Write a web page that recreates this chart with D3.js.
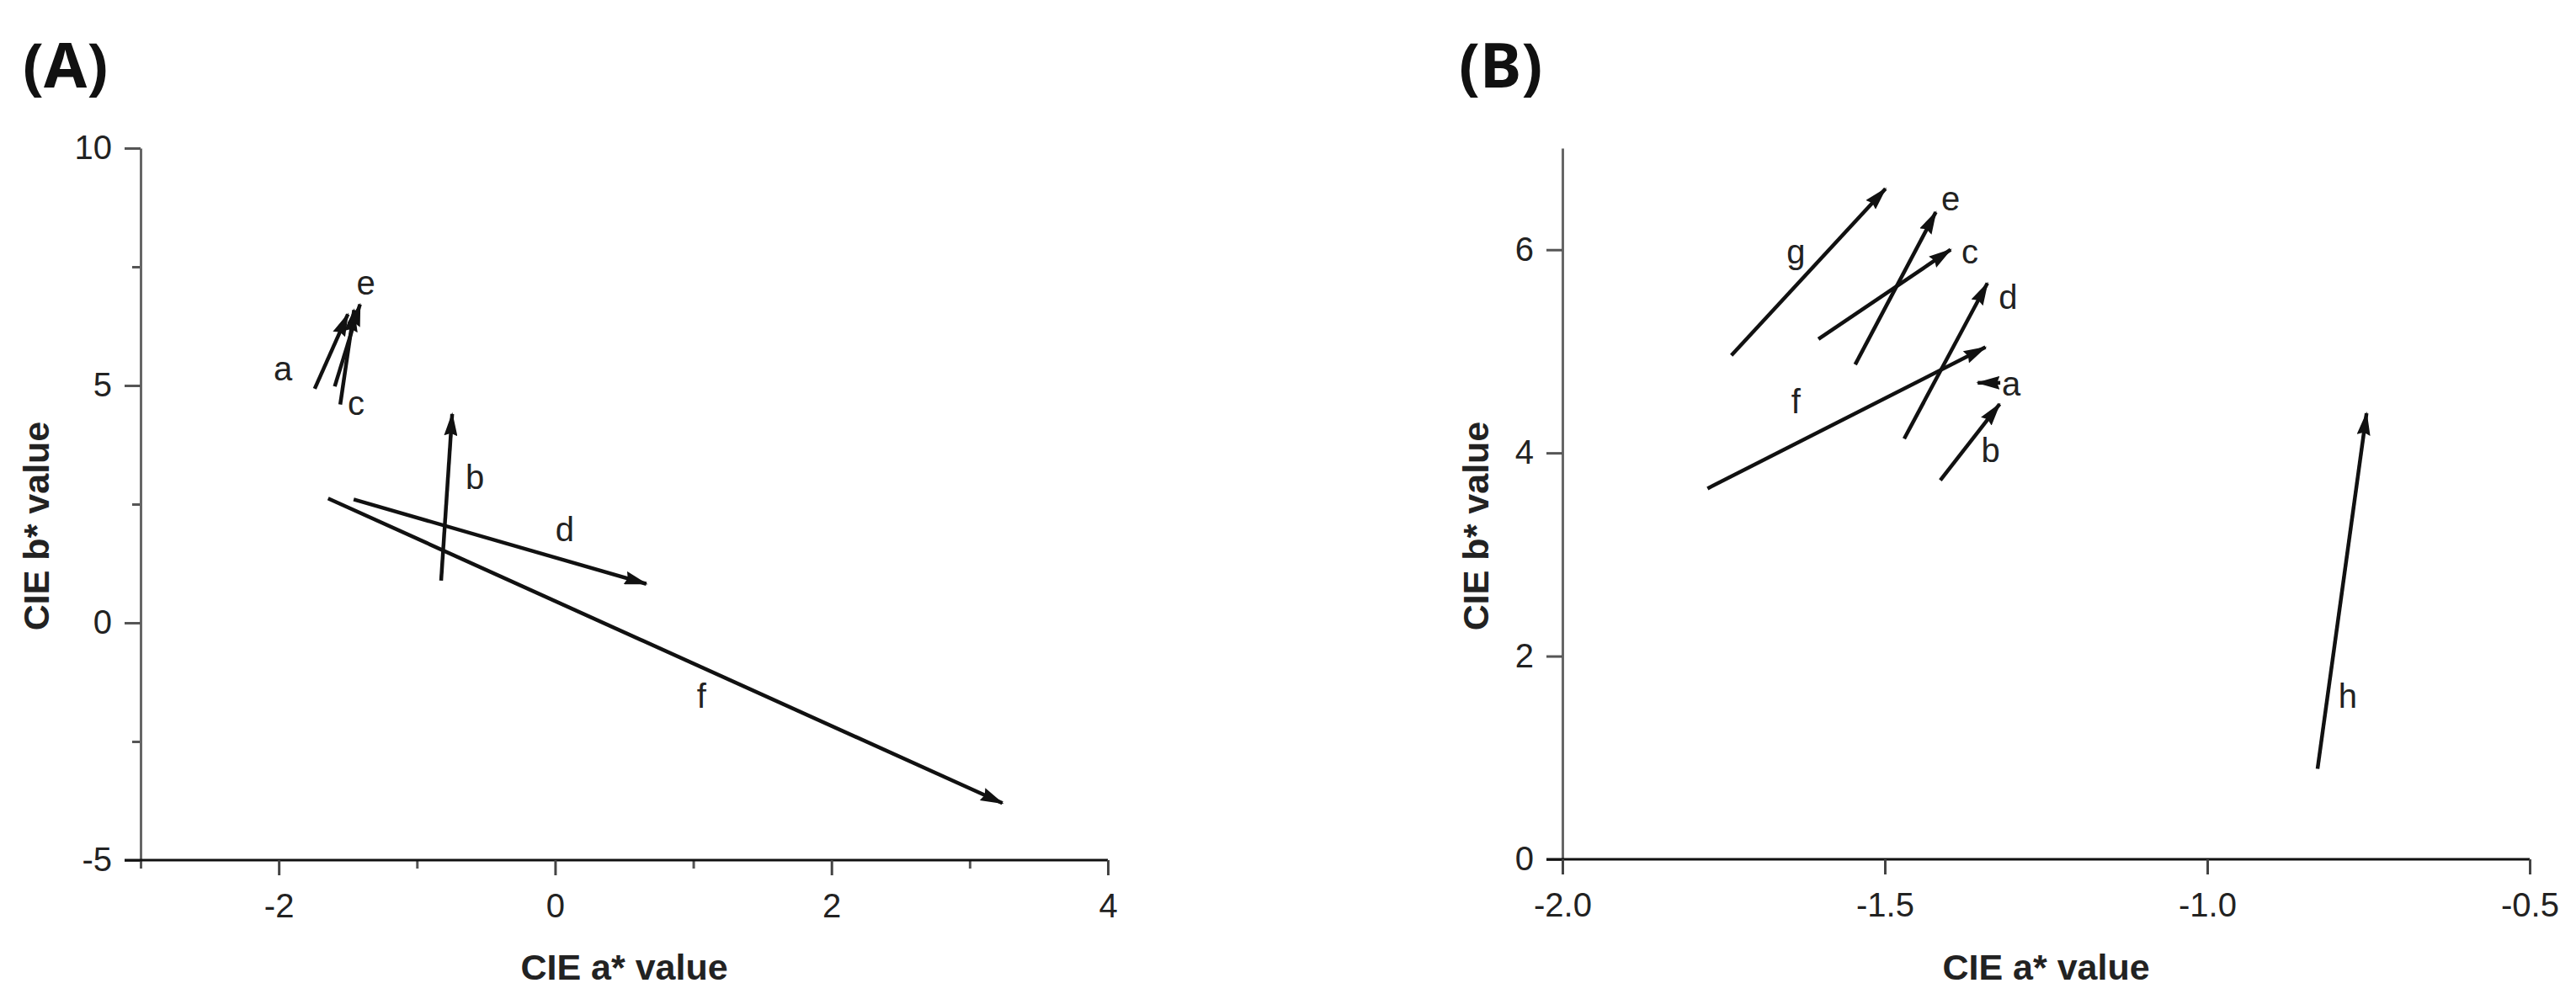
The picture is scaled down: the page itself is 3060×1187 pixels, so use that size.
<!DOCTYPE html>
<html>
<head>
<meta charset="utf-8">
<script src="https://cdn.jsdelivr.net/npm/d3@7"></script>
<style>
  body { margin: 0; background: #fff; }
  text { font-family: "Liberation Sans", Arial, sans-serif; }
</style>
</head>
<body>
<script>
// Panel A: colour change vectors (start -> end)
var labelsA = ["a", "b", "c", "d", "e", "f"];
var startXA = [-1.74, -0.825, -1.555, -1.458, -1.595, -1.643];
var startYA = [4.93, 0.89, 4.60, 2.60, 4.98, 2.62];
var endXA = [-1.50, -0.745, -1.455, 0.66, -1.412, 3.237];
var endYA = [6.50, 4.40, 6.59, 0.82, 6.71, -3.80];
var textXA = [-1.97, -0.58, -1.44, 0.07, -1.37, 1.06];
var textYA = [5.36, 3.06, 4.63, 1.97, 7.16, -1.54];

// Panel B
var labelsB = ["a", "b", "c", "d", "e", "f", "g", "h"];
var startXB = [-1.321, -1.414, -1.603, -1.470, -1.546, -1.775, -1.738, -0.829];
var startYB = [4.69, 3.73, 5.12, 4.14, 4.87, 3.65, 4.96, 0.89];
var endXB = [-1.356, -1.322, -1.398, -1.341, -1.421, -1.344, -1.499, -0.753];
var endYB = [4.69, 4.48, 6.00, 5.67, 6.37, 5.04, 6.60, 4.39];
var textXB = [-1.304, -1.336, -1.368, -1.309, -1.398, -1.638, -1.638, -0.782];
var textYB = [4.68, 4.03, 5.98, 5.53, 6.50, 4.51, 5.98, 1.61];

// Axis ticks
var xTicksA = [-2, 0, 2, 4], xMinorA = [-3, -1, 1, 3];
var yTicksA = [-5, 0, 5, 10], yMinorA = [-2.5, 2.5, 7.5];
var xTicksB = [-2.0, -1.5, -1.0, -0.5];
var yTicksB = [0, 2, 4, 6];

var svg = d3.select("body").append("svg")
    .attr("width", 3060)
    .attr("height", 1187);

// arrow head
svg.append("defs").append("marker")
    .attr("id", "head")
    .attr("markerUnits", "userSpaceOnUse")
    .attr("markerWidth", 28)
    .attr("markerHeight", 16)
    .attr("refX", 26)
    .attr("refY", 8)
    .attr("orient", "auto")
    .append("path")
    .attr("d", "M0,0 L28,8 L0,16 L3,8 Z")
    .attr("fill", "#111");

function drawPanel(opt) {
    var x = d3.scaleLinear().domain(opt.xDomain).range([opt.left, opt.right]);
    var y = d3.scaleLinear().domain(opt.yDomain).range([opt.bottom, opt.top]);

    // minor ticks first
    if (opt.xMinor) {
        svg.append("g")
            .attr("transform", "translate(0," + opt.bottom + ")")
            .call(d3.axisBottom(x).tickValues(opt.xMinor).tickSize(10).tickFormat(""))
            .call(g => g.select(".domain").remove())
            .call(g => g.selectAll("line").attr("stroke", "#555").attr("stroke-width", 3));
    }
    if (opt.yMinor) {
        svg.append("g")
            .attr("transform", "translate(" + opt.left + ",0)")
            .call(d3.axisLeft(y).tickValues(opt.yMinor).tickSize(10).tickFormat(""))
            .call(g => g.select(".domain").remove())
            .call(g => g.selectAll("line").attr("stroke", "#555").attr("stroke-width", 3));
    }

    // Y axis
    var yAxis = svg.append("g")
        .attr("transform", "translate(" + opt.left + ",0)")
        .call(d3.axisLeft(y).tickValues(opt.yTicks).tickSize(19).tickSizeOuter(0)
            .tickPadding(15).tickFormat(opt.yFormat));
    yAxis.select(".domain").attr("stroke", "#666").attr("stroke-width", 3);
    yAxis.selectAll("line").attr("stroke", "#555").attr("stroke-width", 3);
    yAxis.selectAll("text").attr("font-size", 40).attr("fill", "#222")
        .style("font-family", "'Liberation Sans', Arial, sans-serif");

    // X axis
    var xAxis = svg.append("g")
        .attr("transform", "translate(0," + opt.bottom + ")")
        .call(d3.axisBottom(x).tickValues(opt.xTicks).tickSize(18).tickSizeOuter(0)
            .tickPadding(22).tickFormat(opt.xFormat));
    xAxis.select(".domain").attr("stroke", "#111").attr("stroke-width", 3)
        .attr("d", "M" + (opt.left - 19) + ",0H" + opt.right);
    xAxis.selectAll("line").attr("stroke", "#444").attr("stroke-width", 3);
    xAxis.selectAll("text").attr("font-size", 40).attr("fill", "#222")
        .style("font-family", "'Liberation Sans', Arial, sans-serif");

    // axis titles
    svg.append("text")
        .attr("x", (opt.left + opt.right) / 2)
        .attr("y", 1164)
        .attr("text-anchor", "middle")
        .attr("font-size", 43)
        .attr("font-weight", "bold")
        .attr("fill", "#222")
        .text("CIE a* value");

    svg.append("text")
        .attr("transform", "translate(" + opt.yTitleX + ",625) rotate(-90)")
        .attr("text-anchor", "middle")
        .attr("font-size", 43)
        .attr("font-weight", "bold")
        .attr("fill", "#222")
        .text("CIE b* value");

    // panel letter
    svg.append("text")
        .attr("x", opt.letterX)
        .attr("y", 104)
        .attr("font-size", 74)
        .attr("font-weight", "bold")
        .style("font-family", "'Noto Sans', 'Liberation Sans', sans-serif")
        .attr("fill", "#111")
        .text(opt.letter);

    // vectors
    svg.append("g").selectAll("line")
        .data(opt.labels)
        .enter().append("line")
        .attr("x1", (d, i) => x(opt.x0[i]))
        .attr("y1", (d, i) => y(opt.y0[i]))
        .attr("x2", (d, i) => x(opt.x1[i]))
        .attr("y2", (d, i) => y(opt.y1[i]))
        .attr("stroke", "#111")
        .attr("stroke-width", 4.5)
        .attr("marker-end", "url(#head)");

    svg.append("g").selectAll("text")
        .data(opt.labels)
        .enter().append("text")
        .attr("x", (d, i) => x(opt.tx[i]))
        .attr("y", (d, i) => y(opt.ty[i]))
        .attr("text-anchor", "middle")
        .attr("dominant-baseline", "central")
        .attr("font-size", 40)
        .attr("fill", "#222")
        .text(d => d);
}

drawPanel({
    letter: "(A)", letterX: 27,
    xDomain: [-3, 4], yDomain: [-5, 10],
    left: 167, right: 1316, top: 176, bottom: 1022,
    xTicks: xTicksA, xMinor: xMinorA, yTicks: yTicksA, yMinor: yMinorA,
    xFormat: d => String(d), yFormat: d => String(d),
    yTitleX: 58,
    labels: labelsA, x0: startXA, y0: startYA, x1: endXA, y1: endYA,
    tx: textXA, ty: textYA
});

drawPanel({
    letter: "(B)", letterX: 1733,
    xDomain: [-2.0, -0.5], yDomain: [0, 7],
    left: 1856, right: 3005, top: 176, bottom: 1021,
    xTicks: xTicksB, yTicks: yTicksB,
    xFormat: d => d.toFixed(1), yFormat: d => String(d),
    yTitleX: 1768,
    labels: labelsB, x0: startXB, y0: startYB, x1: endXB, y1: endYB,
    tx: textXB, ty: textYB
});
</script>
</body>
</html>
